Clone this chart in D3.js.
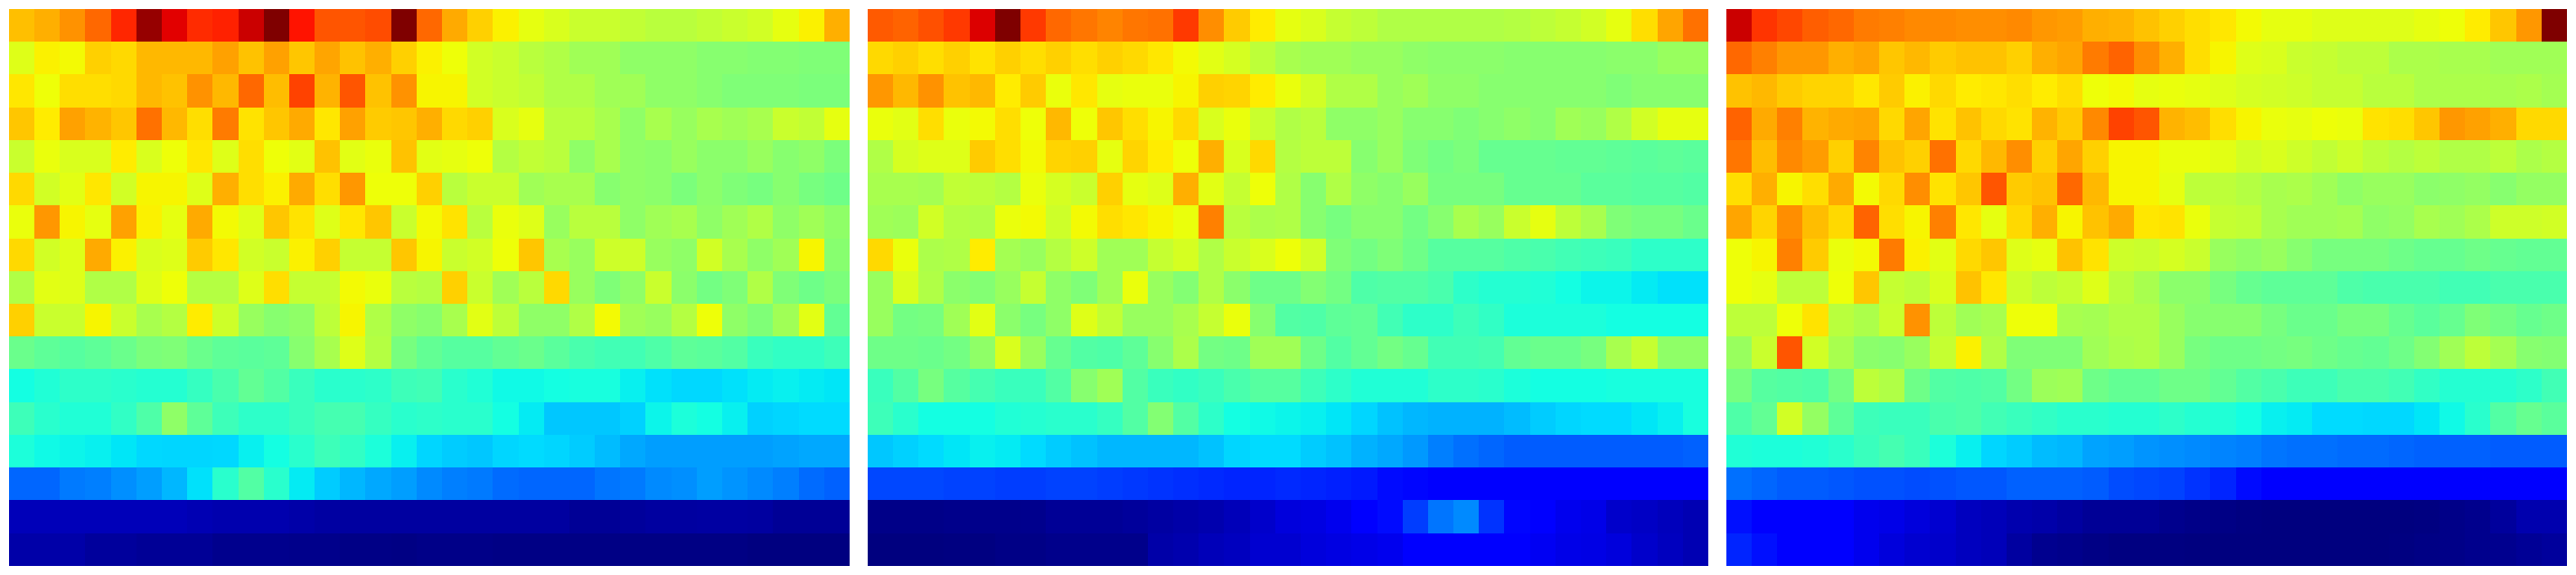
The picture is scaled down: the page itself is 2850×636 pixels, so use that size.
<!DOCTYPE html>
<html>
<head>
<meta charset="utf-8">
<script src="https://cdn.jsdelivr.net/npm/d3@7/dist/d3.min.js"></script>
<style>html,body{margin:0;padding:0;background:#fff;overflow:hidden}svg{display:block}</style>
</head>
<body>
<svg id="chart" width="2850" height="636"></svg>
<script>
// Values in thousandths of the colour range (0 = dark blue, 1000 = dark red)
const panelA = [
[708,725,755,800,870,980,915,865,875,935,1000,890,820,820,830,1000,800,730,690,655,630,615,595,595,585,575,575,585,595,605,630,655,725],
[620,655,645,690,680,715,715,715,740,705,740,700,735,705,725,690,655,640,605,595,575,565,545,545,525,525,525,515,515,510,510,505,505],
[665,640,675,675,680,715,705,755,715,800,710,840,720,820,705,755,650,650,605,595,585,565,565,545,545,525,525,515,505,505,505,500,500],
[700,660,740,720,700,790,715,675,780,670,700,730,665,740,695,700,725,680,690,615,630,575,575,555,525,555,535,555,545,555,595,585,630],
[595,635,615,615,660,615,640,665,620,675,640,625,705,625,635,705,625,630,640,570,585,575,525,555,525,520,535,520,520,535,515,525,500],
[680,605,625,665,605,650,650,620,725,675,655,730,675,750,640,640,690,575,595,595,545,555,555,515,525,520,500,520,505,495,515,495,485],
[635,750,650,630,740,655,630,730,645,620,700,670,620,665,700,595,645,670,575,635,620,535,575,575,525,545,555,525,545,565,525,545,525],
[680,605,620,730,655,615,620,695,665,605,595,655,690,590,590,700,650,595,605,640,700,555,535,600,600,535,525,605,555,525,545,650,515],
[565,625,620,565,565,620,640,570,570,620,675,590,590,645,635,575,570,690,595,545,575,680,535,505,525,595,520,490,505,565,505,485,500],
[690,595,595,650,595,555,570,660,600,535,515,525,580,650,565,525,515,555,625,580,525,525,565,645,545,535,570,640,525,505,545,625,470],
[480,465,455,465,480,500,505,480,465,460,465,515,555,620,570,495,470,455,455,470,480,460,440,430,430,445,465,460,450,420,410,410,425],
[375,390,405,405,400,395,395,415,440,470,450,420,400,400,405,425,430,400,390,370,370,375,380,380,360,345,337,337,345,355,360,355,350],
[425,400,390,390,410,445,525,465,425,405,405,420,435,435,415,400,405,400,400,375,355,320,320,320,330,365,385,375,360,330,335,340,340],
[385,370,365,360,350,337,335,335,337,360,375,400,425,410,385,360,335,325,320,335,340,335,325,310,290,280,280,280,280,280,285,290,290],
[225,225,245,250,265,280,305,345,400,450,400,355,325,305,290,280,260,250,245,230,225,225,225,240,245,260,265,280,270,260,250,230,220],
[50,50,50,50,50,50,50,45,40,40,40,35,30,28,28,28,28,28,28,28,28,28,20,20,24,28,28,30,30,28,20,20,20],
[35,35,35,25,25,20,20,20,12,12,12,10,10,6,6,4,8,8,8,5,5,5,5,5,4,4,4,4,4,1,1,1,1]
];
const panelB = [
[815,805,825,850,920,1000,850,800,785,770,785,790,850,760,695,660,630,615,590,580,565,565,565,565,565,570,580,590,605,630,675,735,790],
[680,690,675,690,670,690,675,690,675,690,680,665,645,625,610,580,555,545,545,535,535,525,520,520,520,515,515,515,515,520,520,535,535],
[750,715,755,705,715,660,695,635,665,630,635,635,650,690,685,660,635,605,565,565,535,545,525,525,515,515,515,515,515,505,515,515,515],
[635,625,675,635,645,675,640,715,640,700,675,650,680,615,635,595,565,575,525,525,535,515,515,505,515,525,515,545,535,565,605,630,630],
[565,610,620,620,695,675,645,685,690,630,685,660,640,725,615,680,570,580,580,515,535,505,490,500,475,475,475,470,470,465,460,465,460],
[555,555,550,585,580,570,635,610,595,690,630,620,725,625,590,640,565,515,565,525,515,535,495,495,495,475,475,475,460,460,455,455,450],
[545,540,605,570,565,635,645,600,645,675,665,650,635,775,575,560,565,515,495,515,515,490,515,555,535,595,630,580,555,505,495,495,480],
[680,635,560,565,660,550,535,570,600,545,545,590,610,565,595,615,640,605,505,490,505,485,455,455,455,445,440,430,425,420,405,405,405],
[535,615,565,520,510,535,590,525,505,545,635,535,510,565,520,485,485,510,490,445,450,450,440,405,395,395,390,375,365,365,355,345,345],
[535,490,495,545,625,520,495,525,620,585,535,535,555,590,635,515,450,445,465,470,430,405,405,425,410,385,385,385,385,375,375,375,375],
[485,485,480,490,525,615,535,475,450,445,465,515,560,490,485,545,545,485,450,470,490,475,430,430,435,470,480,480,495,555,590,525,525],
[420,450,495,455,435,420,420,450,515,545,450,420,410,420,440,455,455,425,405,390,390,390,405,405,400,385,375,375,375,380,380,380,380],
[425,400,375,375,375,390,395,400,400,415,450,510,450,405,375,370,365,360,350,335,315,305,300,300,300,310,325,335,340,340,350,360,380],
[320,330,340,350,360,355,340,325,315,305,305,305,305,315,335,340,340,325,315,300,290,275,250,235,225,215,215,215,215,215,215,215,220],
[195,195,195,190,190,185,185,190,190,185,180,175,170,165,160,160,165,160,155,150,135,130,125,125,120,120,115,115,115,115,115,115,115],
[8,8,8,10,10,10,12,20,20,20,24,30,35,40,50,65,80,85,95,110,135,185,240,260,175,130,115,95,90,65,60,52,45],
[0,0,0,2,2,6,6,10,10,10,10,35,40,50,55,70,70,80,85,90,95,110,110,110,110,110,100,90,88,80,65,55,45]
];
const panelC = [
[935,855,835,810,800,780,775,765,765,760,760,765,750,745,725,720,705,690,675,665,645,630,630,620,620,620,620,630,640,660,700,750,1000],
[800,775,750,750,725,735,700,715,695,705,705,690,725,735,780,805,760,725,675,650,620,615,595,590,580,580,560,560,555,555,545,545,545],
[705,715,695,685,685,665,695,655,680,660,665,675,660,675,640,645,630,635,630,620,610,605,600,590,590,575,575,560,560,560,555,560,550],
[805,730,775,720,730,735,680,735,670,705,680,670,720,695,765,840,820,720,710,675,650,635,630,640,635,670,675,700,750,740,725,680,680],
[785,710,765,745,690,770,705,690,790,680,715,760,690,735,690,650,650,635,635,625,605,615,600,585,600,580,570,580,565,565,580,560,570],
[675,725,650,675,730,645,680,760,670,700,820,695,705,800,715,650,650,630,580,580,570,555,560,545,525,535,535,520,525,530,515,530,530],
[735,685,760,710,680,805,675,650,775,665,630,680,725,650,705,730,665,670,635,590,585,555,545,545,550,525,530,555,545,560,600,600,605],
[640,650,775,695,635,645,780,655,625,680,700,620,630,705,670,600,595,610,595,535,525,535,515,495,495,495,485,475,475,485,475,470,470],
[640,630,580,580,640,700,590,580,615,705,665,600,580,590,620,575,555,520,520,495,475,465,465,465,445,440,440,440,430,430,440,440,440],
[580,580,640,670,575,560,595,755,580,545,555,640,640,555,550,565,565,535,515,515,515,495,480,480,495,495,475,460,475,505,490,475,485],
[535,595,820,605,555,520,515,535,590,655,565,505,505,505,545,560,565,535,495,485,485,490,495,485,475,470,485,510,545,580,550,515,510],
[495,455,450,445,490,580,565,485,450,445,450,490,540,545,485,470,470,485,485,470,450,440,425,425,440,440,430,410,395,395,395,405,430],
[445,470,605,530,465,425,420,420,440,445,430,420,410,400,400,395,395,405,395,390,375,360,355,340,340,337,337,350,370,400,450,475,460],
[390,385,385,390,400,420,435,420,385,360,335,325,310,305,285,280,270,265,260,255,250,240,235,235,230,230,225,220,220,220,215,215,215],
[235,225,215,215,210,205,205,200,205,210,210,220,220,220,215,200,195,190,175,160,135,125,115,115,115,115,115,115,115,115,115,115,115],
[140,125,115,115,115,95,90,80,70,55,50,40,36,28,20,20,20,12,8,5,2,0,0,0,0,0,0,2,8,12,25,40,40],
[160,140,115,115,115,95,80,70,65,55,50,28,14,10,5,2,2,2,0,0,0,0,0,0,0,0,2,5,8,12,14,20,25]
];
const panels = [panelA, panelB, panelC];
const jetStops = [0,110,125,340,350,375,640,650,660,890,910,1000];
const jetColors = ["#00007f","#0000ff","#0000ff","#00dbff","#00e6f7","#14ffe2","#eeff08","#f7f500","#ffec00","#ff1300","#e80000","#7f0000"];

const W = 2850, H = 636, margin = 10, gap = 20;
const color = d3.scaleLinear().domain(jetStops).range(jetColors).interpolate(d3.interpolateRgb).clamp(true);
const panelBand = d3.scaleBand().domain(d3.range(panels.length))
  .range([margin, W - margin + gap]).paddingInner(0);
const panelW = panelBand.bandwidth() - gap;
const yBand = d3.scaleBand().domain(d3.range(panelA.length)).range([margin, H - margin]);
const snap = v => Math.round(v - 0.1);

const svg = d3.select("#chart");
panels.forEach((rows, p) => {
  const x0 = panelBand(p);
  const xBand = d3.scaleBand().domain(d3.range(rows[0].length)).range([x0, x0 + panelW]);
  const cells = rows.flatMap((row, r) => row.map((v, c) => ({r, c, v})));
  svg.append("g").selectAll("rect").data(cells).join("rect")
    .attr("x", d => snap(xBand(d.c)))
    .attr("y", d => snap(yBand(d.r)))
    .attr("width", d => snap(xBand(d.c) + xBand.bandwidth()) - snap(xBand(d.c)))
    .attr("height", d => snap(yBand(d.r) + yBand.bandwidth()) - snap(yBand(d.r)))
    .attr("fill", d => color(d.v))
    .attr("shape-rendering", "crispEdges");
});
</script>
</body>
</html>
